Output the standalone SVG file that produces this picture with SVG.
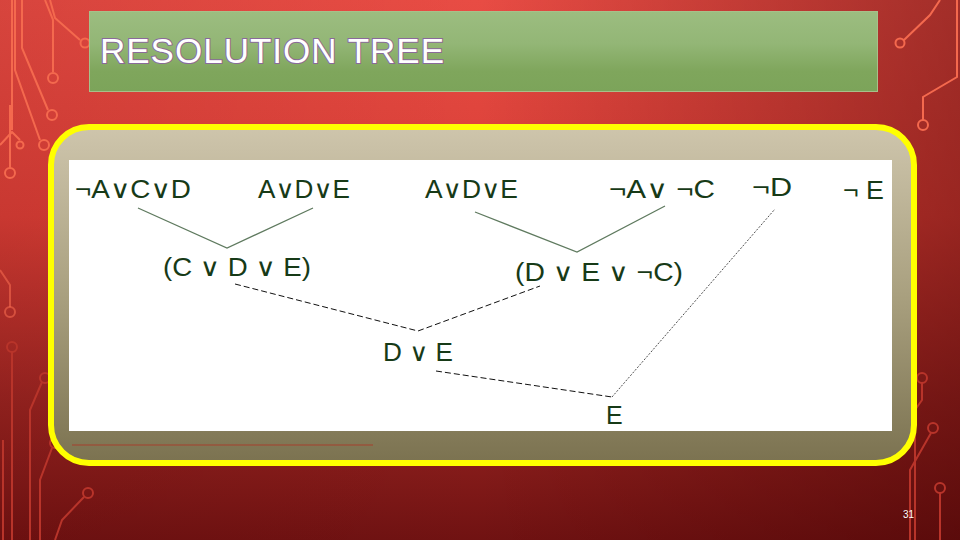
<svg xmlns="http://www.w3.org/2000/svg" width="960" height="540" viewBox="0 0 960 540">
<defs>
<linearGradient id="bg" x1="0" y1="0" x2="0" y2="1">
<stop offset="0" stop-color="#e84c44"/>
<stop offset="0.4" stop-color="#d83e36"/>
<stop offset="0.75" stop-color="#962320"/>
<stop offset="1" stop-color="#701212"/>
</linearGradient>
<linearGradient id="bgr" x1="0" y1="0" x2="1" y2="0">
<stop offset="0" stop-color="#400000" stop-opacity="0.1"/>
<stop offset="0.5" stop-color="#400000" stop-opacity="0"/>
<stop offset="1" stop-color="#3a0000" stop-opacity="0.4"/>
</linearGradient>
<linearGradient id="title" x1="0" y1="0" x2="0" y2="1">
<stop offset="0" stop-color="#9cbd80"/>
<stop offset="0.4" stop-color="#93b676"/>
<stop offset="0.75" stop-color="#7fa65c"/>
<stop offset="1" stop-color="#7ca45a"/>
</linearGradient>
<linearGradient id="panel" x1="0" y1="0" x2="0" y2="1">
<stop offset="0" stop-color="#cec5ac"/>
<stop offset="0.5" stop-color="#a9a07f"/>
<stop offset="1" stop-color="#7b7250"/>
</linearGradient>
<style>
.circ{fill:none;stroke:#f4694e;stroke-width:2}
.circd{fill:none;stroke:#b8342a;stroke-width:2}
.lbl{font-family:"Liberation Sans","DejaVu Sans",sans-serif;font-size:25px;fill:#173a17}
.solid{fill:none;stroke:#5f7a5f;stroke-width:1.3}
.dash{fill:none;stroke:#111;stroke-width:1;stroke-dasharray:6 3}
.dot{fill:none;stroke:#222;stroke-width:0.8;stroke-dasharray:2 1.5}
</style>
</defs>
<rect width="960" height="540" fill="url(#bg)"/>
<rect width="960" height="540" fill="url(#bgr)"/>
<g id="circuits">
<path class="circ" d="M50,0 L55,18 L80,40"/><circle class="circ" cx="85" cy="43" r="4.5"/>
<path class="circ" d="M45,0 L53,20 L53,72"/><circle class="circ" cx="53" cy="78" r="5"/>
<path class="circ" d="M22,0 L22,48 L48,110"/><circle class="circ" cx="52" cy="115" r="5"/>
<path class="circ" d="M12,0 L12,130"/>
<path class="circ" d="M15,0 L15,70 L40,140"/><circle class="circ" cx="44" cy="145" r="5"/>
<path class="circ" d="M10,105 L10,168"/><circle class="circ" cx="10" cy="173" r="5"/>
<path class="circ" d="M0,145 L12,132 L20,140"/><circle class="circ" cx="20" cy="145" r="3.5"/>
<path class="circ" d="M0,270 L10,285 L10,307" opacity="0.6"/><circle class="circ" cx="10" cy="312" r="5" opacity="0.6"/>
<circle class="circd" cx="12" cy="347" r="5"/><path class="circd" d="M12,352 L12,540"/>
<circle class="circd" cx="45" cy="378" r="5"/><path class="circd" d="M42,382 L30,410 L30,540"/>
<path class="circd" d="M3,440 L3,540"/>
<circle class="circd" cx="55" cy="443" r="5"/><path class="circd" d="M52,448 L40,480 L40,540"/>
<circle class="circd" cx="88" cy="493" r="5"/><path class="circd" d="M84,497 L62,520 L55,540"/>
<path class="circ" d="M940,0 L930,15 L904,40"/><circle class="circ" cx="900" cy="43" r="4.5"/>
<path class="circ" d="M957,0 L957,77 L923,97 L923,120"/><circle class="circ" cx="923" cy="125" r="5"/>
<circle class="circd" cx="922" cy="378" r="5"/><path class="circd" d="M922,383 L922,400 L915,410 L915,540"/>
<circle class="circd" cx="933" cy="428" r="5"/><path class="circd" d="M931,433 L910,470 L910,540"/>
<circle class="circd" cx="940" cy="488" r="5"/><path class="circd" d="M940,493 L940,540"/>
</g>
<g id="title">
<rect x="89.5" y="11.5" width="788" height="80" fill="url(#title)" stroke="#a7c08a" stroke-width="1"/>
<text x="100" y="63" font-family="Liberation Sans, Arial, sans-serif" font-size="35" letter-spacing="1" fill="#ffffff" stroke="#8a6a9a" stroke-width="2" paint-order="stroke">RESOLUTION TREE</text>
</g>
<g id="frame">
<rect x="51" y="127" width="863" height="336" rx="38" ry="38" fill="url(#panel)" stroke="#ffff00" stroke-width="6"/>
<rect x="69" y="160" width="823" height="271" fill="#ffffff"/>
<line x1="72" y1="445" x2="373" y2="445" stroke="#a5402c" stroke-width="1"/>
</g>
<g id="connectors">
<polyline class="solid" points="138,208 227,248 313,208"/>
<polyline class="solid" points="475,212 577,252 665,206"/>
<polyline class="dash" points="235,284 418,331 540,286"/>
<polyline class="dash" points="436,371 612,397"/>
<polyline class="dot" points="612,397 775,209"/>
</g>
<g id="n1"><text class="lbl" x="75" y="198" textLength="116" lengthAdjust="spacingAndGlyphs">¬A∨C∨D</text></g>
<g id="n2"><text class="lbl" x="258" y="198" textLength="92" lengthAdjust="spacingAndGlyphs">A∨D∨E</text></g>
<g id="n3"><text class="lbl" x="425" y="198" textLength="93" lengthAdjust="spacingAndGlyphs">A∨D∨E</text></g>
<g id="n4"><text class="lbl" x="609" y="198" textLength="106" lengthAdjust="spacingAndGlyphs">¬A∨ ¬C</text></g>
<g id="n5"><text class="lbl" x="752" y="196" textLength="40" lengthAdjust="spacingAndGlyphs">¬D</text></g>
<g id="n6"><text class="lbl" x="843" y="199" textLength="41" lengthAdjust="spacingAndGlyphs">¬ E</text></g>
<g id="n7"><text class="lbl" x="163" y="276" textLength="148" lengthAdjust="spacingAndGlyphs">(C ∨ D ∨ E)</text></g>
<g id="n8"><text class="lbl" x="515" y="281" textLength="168" lengthAdjust="spacingAndGlyphs">(D ∨ E ∨ ¬C)</text></g>
<g id="n9"><text class="lbl" x="383" y="361" textLength="70" lengthAdjust="spacingAndGlyphs">D ∨ E</text></g>
<g id="n10"><text class="lbl" x="606" y="424">E</text></g>
<text x="903" y="518" font-family="Liberation Sans, Arial, sans-serif" font-size="10" fill="#ffffff">31</text>
</svg>
